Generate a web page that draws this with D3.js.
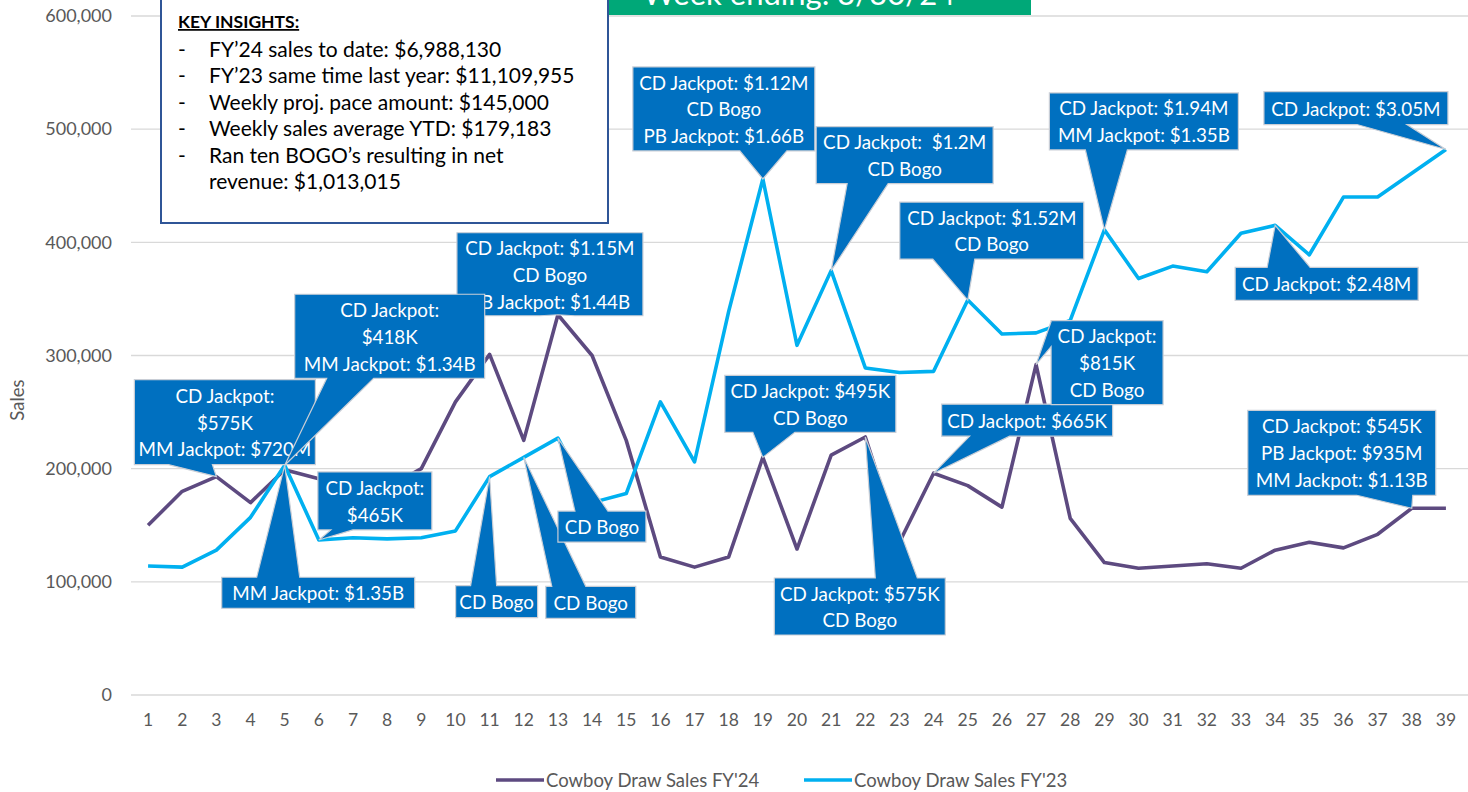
<!DOCTYPE html>
<html>
<head>
<meta charset="utf-8">
<script src="https://cdn.jsdelivr.net/npm/d3@7"></script>
<style>
  body { margin: 0; background: #fff; }
  svg { display: block; font-family: Lato, "Open Sans", sans-serif; }
</style>
</head>
<body>
<div id="container"></div>
<script>
/* DATA */
const weeks = d3.range(1, 40);
const salesFY24 = [150000, 180000, 193000, 170000, 199000, 191000, 185000, 183000, 200000, 259000,
  301000, 225000, 336000, 300000, 225000, 122000, 113000, 122000, 210000, 129000,
  212000, 228000, 135000, 196000, 185000, 166000, 292000, 156000, 117000, 112000,
  114000, 116000, 112000, 128000, 135000, 130000, 142000, 165000, 165000];
const salesFY23 = [114000, 113000, 128000, 157000, 203000, 137000, 139000, 138000, 139000, 145000,
  193000, 210000, 227000, 170000, 178000, 259000, 206000, 339000, 456000, 309000,
  375000, 289000, 285000, 286000, 349000, 319000, 320000, 331000, 411000, 368000,
  379000, 374000, 408000, 415000, 389000, 440000, 440000, 461000, 482000];
const yTicks = [0, 100000, 200000, 300000, 400000, 500000, 600000];
const seriesNames = ["Cowboy Draw Sales FY'24", "Cowboy Draw Sales FY'23"];
const insights = [
  "FY\u201924 sales to date: $6,988,130",
  "FY\u201923 same time last year: $11,109,955",
  "Weekly proj. pace amount: $145,000",
  "Weekly sales average YTD: $179,183",
  "Ran ten BOGO\u2019s resulting in net",
  "revenue: $1,013,015"
];
const title = "Week ending: 3/30/24";

// callouts: which series/week they point at, and the text lines
const callouts = [
  { s: 0, w: 3,  lines: ["CD Jackpot:", "$575K", "MM Jackpot: $720M"] },
  { s: 0, w: 13, lines: ["CD Jackpot: $1.15M", "CD Bogo", "PB Jackpot: $1.44B"] },
  { s: 1, w: 5,  lines: ["CD Jackpot:", "$418K", "MM Jackpot: $1.34B"] },
  { s: 1, w: 5,  lines: ["MM Jackpot: $1.35B"] },
  { s: 1, w: 6,  lines: ["CD Jackpot:", "$465K"] },
  { s: 1, w: 11, lines: ["CD Bogo"] },
  { s: 1, w: 12, lines: ["CD Bogo"] },
  { s: 1, w: 13, lines: ["CD Bogo"] },
  { s: 1, w: 19, lines: ["CD Jackpot: $1.12M", "CD Bogo", "PB Jackpot: $1.66B"] },
  { s: 1, w: 21, lines: ["CD Jackpot:  $1.2M", "CD Bogo"] },
  { s: 1, w: 25, lines: ["CD Jackpot: $1.52M", "CD Bogo"] },
  { s: 0, w: 19, lines: ["CD Jackpot: $495K", "CD Bogo"] },
  { s: 0, w: 22, lines: ["CD Jackpot: $575K", "CD Bogo"] },
  { s: 0, w: 24, lines: ["CD Jackpot: $665K"] },
  { s: 0, w: 27, lines: ["CD Jackpot:", "$815K", "CD Bogo"] },
  { s: 1, w: 29, lines: ["CD Jackpot: $1.94M", "MM Jackpot: $1.35B"] },
  { s: 1, w: 39, lines: ["CD Jackpot: $3.05M"] },
  { s: 1, w: 34, lines: ["CD Jackpot: $2.48M"] },
  { s: 0, w: 38, lines: ["CD Jackpot: $545K", "PB Jackpot: $935M", "MM Jackpot: $1.13B"] }
];
// box layout relative to the point: [dx, dy, w, h, side, base0, base1]
const calloutLayout = [
  [-82, -97, 181, 85, "bottom", 34, 78],
  [-101, -82, 186, 83, "bottom", 83, 118],
  [10, -171, 190, 84, "bottom", 32, 79],
  [-63, 112, 193, 31, "top", 35, 78],
  [-1, -68, 114, 58, "bottom", 13, 35],
  [-34, 109, 82, 32, "top", 15, 41],
  [22, 129, 90, 32, "top", 6, 40],
  [0, 73, 88, 31, "top", 17, 50],
  [-130, -112, 182, 84, "bottom", 107, 154],
  [-15, -144, 177, 57, "bottom", 31, 72],
  [-68, -98, 184, 57, "bottom", 33, 75],
  [-38, -82, 171, 57, "bottom", 28, 70],
  [-91, 141, 171, 57, "top", 101, 143],
  [8, -69, 171, 32, "bottom", 28, 68],
  [15, -44, 112, 84, "left", 1, 26],
  [-55, -137, 189, 57, "bottom", 36, 78],
  [-182, -58, 184, 33, "bottom", 93, 143],
  [-40, 42, 183, 33, "top", 32, 75],
  [-164, -98, 188, 85, "bottom", 109, 165]
];

/* CONSTANTS */
const width = 1468;
const height = 792;
const margin = { top: 16, right: 5, bottom: 97, left: 131 };
const colors = ["#5D4A80", "#00B0F0"];
const textGray = "#595959";

const svg = d3.select("#container")
  .append("svg")
  .attr("width", width)
  .attr("height", height);

// SCALES
const xScale = d3.scaleBand()
  .domain(weeks)
  .range([margin.left, width - margin.right])
  .padding(0);

const yScale = d3.scaleLinear()
  .domain([0, 600000])
  .range([height - margin.bottom, margin.top]);

const xc = w => xScale(w) + xScale.bandwidth() / 2;

// GRID
svg.append("g")
  .selectAll("line")
  .data(yTicks)
  .join("line")
  .attr("x1", margin.left)
  .attr("x2", width)
  .attr("y1", d => yScale(d))
  .attr("y2", d => yScale(d))
  .attr("stroke", "#D9D9D9")
  .attr("stroke-width", 1.3);

// AXES
const yAxis = d3.axisLeft(yScale)
  .tickValues(yTicks)
  .tickFormat(d3.format(","))
  .tickSize(0)
  .tickPadding(19);

const yAxisGroup = svg.append("g")
  .attr("transform", `translate(${margin.left}, 0)`)
  .call(yAxis);
yAxisGroup.select(".domain").remove();
yAxisGroup.selectAll("text")
  .attr("fill", textGray)
  .style("font-size", "18px")
  .style("font-family", "Lato, sans-serif");

const xAxis = d3.axisBottom(xScale)
  .tickSize(0)
  .tickPadding(19);

const xAxisGroup = svg.append("g")
  .attr("transform", `translate(0, ${height - margin.bottom})`)
  .call(xAxis);
xAxisGroup.select(".domain").remove();
xAxisGroup.selectAll("text")
  .attr("fill", textGray)
  .style("font-size", "17.5px")
  .style("font-family", "Lato, sans-serif");

svg.append("text")
  .attr("transform", `translate(${24}, ${400}) rotate(-90)`)
  .attr("text-anchor", "middle")
  .attr("fill", textGray)
  .style("font-size", "18.5px")
  .text("Sales");

// LINES
const lineGen = d3.line()
  .x((d, i) => xc(weeks[i]))
  .y(d => yScale(d));

svg.selectAll(".series")
  .data([salesFY24, salesFY23])
  .join("path")
  .attr("class", "series")
  .attr("fill", "none")
  .attr("stroke", (d, i) => colors[i])
  .attr("stroke-width", 3.6)
  .attr("stroke-linejoin", "round")
  .attr("d", d => lineGen(d));

// TITLE BANNER (cut off at the top, as in the original)
svg.append("rect")
  .attr("x", 609).attr("y", -40)
  .attr("width", 422).attr("height", 55)
  .attr("fill", "#00A878");
svg.append("text")
  .attr("x", 643).attr("y", 5)
  .attr("fill", "#fff")
  .style("font-size", "31px")
  .text(title);

// KEY INSIGHTS BOX
const kb = svg.append("g");
kb.append("rect")
  .attr("x", 161).attr("y", -2)
  .attr("width", 447).attr("height", 225)
  .attr("fill", "#fff")
  .attr("stroke", "#2F5597")
  .attr("stroke-width", 2);
kb.append("text")
  .attr("x", 178).attr("y", 28)
  .attr("fill", "#000")
  .style("font-size", "17.5px")
  .style("font-weight", "bold")
  .style("text-decoration", "underline")
  .text("KEY INSIGHTS:");
insights.forEach((t, i) => {
  const y = 57 + i * 26.4;
  if (i < 5) {
    kb.append("text").attr("x", 178).attr("y", y)
      .style("font-size", "21px").text("-");
  }
  kb.append("text").attr("x", 209).attr("y", y)
    .attr("fill", "#000")
    .style("font-size", "21px")
    .text(t);
});

// CALLOUTS
const series = [salesFY24, salesFY23];
const cg = svg.append("g");
callouts.forEach((c, i) => {
  const [dx, dy, w, h, side, b0, b1] = calloutLayout[i];
  const px = xc(c.w);
  const py = yScale(series[c.s][c.w - 1]);
  const x0 = px + dx, y0 = py + dy, x1 = x0 + w, y1 = y0 + h;
  let pts;
  if (side === "bottom") {
    pts = [[x0, y0], [x1, y0], [x1, y1], [x0 + b1, y1], [px, py], [x0 + b0, y1], [x0, y1]];
  } else if (side === "top") {
    pts = [[x0, y0], [x0 + b0, y0], [px, py], [x0 + b1, y0], [x1, y0], [x1, y1], [x0, y1]];
  } else {
    pts = [[x0, y0], [x1, y0], [x1, y1], [x0, y1], [x0, y0 + b1], [px, py], [x0, y0 + b0]];
  }
  cg.append("path")
    .attr("d", d3.line()(pts) + "Z")
    .attr("fill", "#0070C0")
    .attr("stroke", "#C9CED6")
    .attr("stroke-width", 1.2)
    .attr("stroke-linejoin", "miter");
  const lh = 26.8;
  const n = c.lines.length;
  c.lines.forEach((t, j) => {
    cg.append("text")
      .attr("x", (x0 + x1) / 2)
      .attr("y", (y0 + y1) / 2 + (j - (n - 1) / 2) * lh)
      .attr("text-anchor", "middle")
      .attr("dominant-baseline", "central")
      .attr("fill", "#fff")
      .style("font-size", "18.8px")
      .style("white-space", "pre")
      .text(t);
  });
});

// LEGEND
const legend = svg.append("g");
const legendX = [496, 804];
seriesNames.forEach((name, i) => {
  legend.append("line")
    .attr("x1", legendX[i]).attr("x2", legendX[i] + 48)
    .attr("y1", 780).attr("y2", 780)
    .attr("stroke", colors[i])
    .attr("stroke-width", 3.6);
  legend.append("text")
    .attr("x", legendX[i] + 50).attr("y", 780)
    .attr("dominant-baseline", "central")
    .attr("fill", textGray)
    .style("font-size", "18.5px")
    .text(name);
});
</script>
</body>
</html>
